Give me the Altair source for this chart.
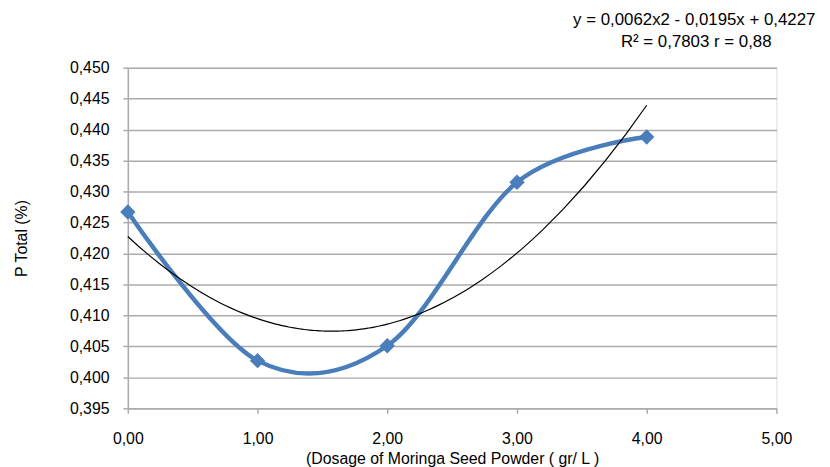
import altair as alt
import pandas as pd

dosage = [0.0, 1.0, 2.0, 3.0, 4.0]
p_total = [0.4267, 0.4027, 0.4051, 0.4315, 0.4388]
x_ticks = [0, 1, 2, 3, 4, 5]
y_ticks = [0.395, 0.400, 0.405, 0.410, 0.415, 0.420, 0.425, 0.430, 0.435, 0.440, 0.445, 0.450]
eq_line1 = "y = 0,0062x2 - 0,0195x + 0,4227"
eq_line2 = "R\u00b2 = 0,7803 r = 0,88"

df = pd.DataFrame({"x": dosage, "y": p_total})

FONT = "Liberation Sans"
GRID = "#ababab"

xenc = alt.X(
    "x:Q",
    scale=alt.Scale(domain=[0, 5], nice=False),
    axis=alt.Axis(
        values=x_ticks,
        labelExpr="replace(format(datum.value, '.2f'), '.', ',')",
        title="(Dosage of Moringa Seed Powder ( gr/ L )",
        grid=False,
        labelFlush=False,
        labelOverlap=False,
        domainColor=GRID,
        domainWidth=1.5,
        tickColor=GRID,
        tickWidth=1.5,
        tickSize=5,
        labelPadding=18,
        labelFontSize=16,
        labelFont=FONT,
        labelColor="#000000",
        titleFont=FONT,
        titleFontSize=16,
        titleFontWeight="normal",
        titleColor="#000000",
        titlePadding=4,
    ),
)
yenc = alt.Y(
    "y:Q",
    scale=alt.Scale(domain=[0.395, 0.450], nice=False, zero=False),
    axis=alt.Axis(
        values=y_ticks,
        tickCount=12,
        labelOverlap=False,
        labelFlush=False,
        labelExpr="replace(format(datum.value, '.3f'), '.', ',')",
        title="P Total (%)",
        grid=True,
        gridColor=GRID,
        gridWidth=1.5,
        domainColor=GRID,
        domainWidth=1.5,
        tickColor=GRID,
        tickWidth=1.5,
        tickSize=5,
        labelPadding=14,
        labelFontSize=16,
        labelFont=FONT,
        labelColor="#000000",
        titleFont=FONT,
        titleFontSize=16,
        titleFontWeight="normal",
        titleColor="#000000",
        titlePadding=40,
    ),
)

base = alt.Chart(df)

line = base.mark_line(color="#4a7ebb", strokeWidth=4.5, interpolate="cardinal").encode(x=xenc, y=yenc)
pts = base.mark_point(shape="diamond", filled=True, size=240, color="#4a7ebb", opacity=1).encode(x="x:Q", y="y:Q")
trend = base.transform_regression("x", "y", method="poly", order=2).mark_line(
    color="#000000", strokeWidth=1.2
).encode(x="x:Q", y="y:Q")

eq1 = alt.Chart(pd.DataFrame({"t": [eq_line1]})).mark_text(
    font=FONT, fontSize=17, color="#000000", align="center", baseline="middle"
).encode(text="t:N", x=alt.value(572), y=alt.value(-48))
eq2 = alt.Chart(pd.DataFrame({"t": [eq_line2]})).mark_text(
    font=FONT, fontSize=17, color="#000000", align="center", baseline="middle"
).encode(text="t:N", x=alt.value(574), y=alt.value(-26))

chart = alt.layer(line, trend, pts, eq1, eq2).properties(
    width=655,
    height=344,
    autosize=alt.AutoSizeParams(type="none"),
    padding={"left": 121, "top": 58, "right": 46, "bottom": 57},
).configure_view(stroke=None).configure(background="#ffffff")

chart.save("out.html", embed_options={"renderer": "svg", "actions": False})
